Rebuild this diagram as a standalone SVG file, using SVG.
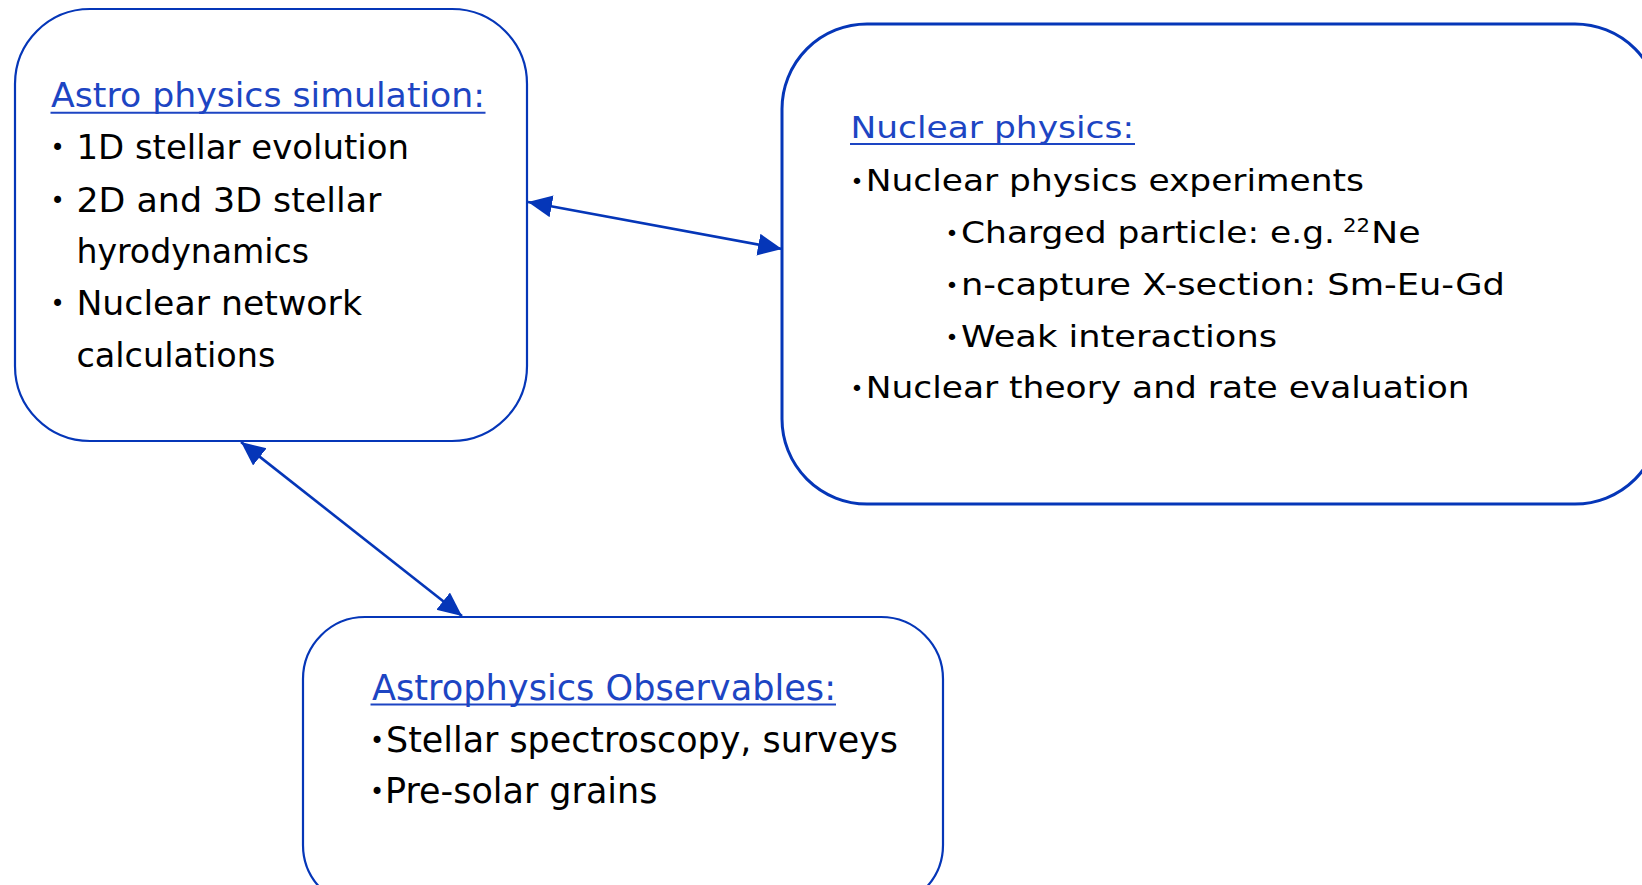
<svg xmlns="http://www.w3.org/2000/svg" width="1642" height="885" viewBox="0 0 1642 885">
<style>
.box{fill:#ffffff;stroke:#0536b8;}
.t{font-family:"DejaVu Sans","Liberation Sans",sans-serif;fill:#000000;}
.title{font-family:"DejaVu Sans","Liberation Sans",sans-serif;fill:#1d45c3;}
.ul{stroke:#1d45c3;stroke-width:2;}
.conn{stroke:#0536b8;stroke-width:2.6;fill:none;marker-start:url(#ah);marker-end:url(#ah);}
</style>
<defs>
<marker id="ah" markerUnits="userSpaceOnUse" markerWidth="26" markerHeight="24" refX="24" refY="11" orient="auto-start-reverse">
<path d="M0,0 L24,11 L0,22 Z" fill="#0536b8"/>
</marker>
</defs>
<rect width="1642" height="885" fill="#ffffff"/>
<g id="astro-simulation">
<rect class="box" x="15" y="9" width="512" height="432" rx="75" ry="75" stroke-width="2.2"/>
<text class="title" x="51" y="107" font-size="34" textLength="434" lengthAdjust="spacingAndGlyphs">Astro physics simulation:</text>
<line class="ul" x1="50.5" y1="112.7" x2="485.5" y2="112.7"/>
<text class="t" x="57.5" y="156" font-size="24" text-anchor="middle">•</text>
<text class="t" x="76.4" y="159.3" font-size="34" textLength="332.6" lengthAdjust="spacingAndGlyphs">1D stellar evolution</text>
<text class="t" x="57.5" y="209" font-size="24" text-anchor="middle">•</text>
<text class="t" x="76.4" y="212" font-size="34" textLength="305" lengthAdjust="spacingAndGlyphs">2D and 3D stellar</text>
<text class="t" x="76.4" y="263.3" font-size="34" textLength="232.6" lengthAdjust="spacingAndGlyphs">hyrodynamics</text>
<text class="t" x="57.5" y="312" font-size="24" text-anchor="middle">•</text>
<text class="t" x="76.4" y="315" font-size="34" textLength="285.6" lengthAdjust="spacingAndGlyphs">Nuclear network</text>
<text class="t" x="76.4" y="366.7" font-size="34" textLength="199" lengthAdjust="spacingAndGlyphs">calculations</text>
</g>
<g id="nuclear-physics">
<rect class="box" x="782" y="24" width="878" height="480" rx="85" ry="85" stroke-width="3"/>
<text class="title" x="850.5" y="138.3" font-size="31" textLength="283.5" lengthAdjust="spacingAndGlyphs">Nuclear physics:</text>
<line class="ul" x1="850" y1="144" x2="1135" y2="144"/>
<text class="t" x="857" y="189" font-size="22" text-anchor="middle">•</text>
<text class="t" x="865.7" y="191" font-size="31" textLength="498.3" lengthAdjust="spacingAndGlyphs">Nuclear physics experiments</text>
<text class="t" x="952" y="241.3" font-size="22" text-anchor="middle">•</text>
<text class="t" x="961" y="243.3" font-size="31" textLength="374" lengthAdjust="spacingAndGlyphs">Charged particle: e.g. </text>
<text class="t" x="1343" y="232" font-size="19" textLength="27" lengthAdjust="spacingAndGlyphs">22</text>
<text class="t" x="1371" y="243.3" font-size="31" textLength="49.7" lengthAdjust="spacingAndGlyphs">Ne</text>
<text class="t" x="952" y="293" font-size="22" text-anchor="middle">•</text>
<text class="t" x="961" y="295" font-size="31" textLength="544" lengthAdjust="spacingAndGlyphs">n-capture X-section: Sm-Eu-Gd</text>
<text class="t" x="952" y="345.3" font-size="22" text-anchor="middle">•</text>
<text class="t" x="961" y="347.3" font-size="31" textLength="316" lengthAdjust="spacingAndGlyphs">Weak interactions</text>
<text class="t" x="857" y="396.3" font-size="22" text-anchor="middle">•</text>
<text class="t" x="865.7" y="398.3" font-size="31" textLength="604" lengthAdjust="spacingAndGlyphs">Nuclear theory and rate evaluation</text>
</g>
<g id="astro-observables">
<rect class="box" x="303" y="617" width="640" height="290" rx="62" ry="62" stroke-width="2.2"/>
<text class="title" x="372" y="700" font-size="36" textLength="464" lengthAdjust="spacingAndGlyphs">Astrophysics Observables:</text>
<line class="ul" x1="370.5" y1="704.5" x2="836" y2="704.5"/>
<text class="t" x="377" y="749" font-size="24" text-anchor="middle">•</text>
<text class="t" x="386" y="751.7" font-size="36" textLength="512" lengthAdjust="spacingAndGlyphs">Stellar spectroscopy, surveys</text>
<text class="t" x="377" y="800" font-size="24" text-anchor="middle">•</text>
<text class="t" x="385" y="802.7" font-size="36" textLength="272.4" lengthAdjust="spacingAndGlyphs">Pre-solar grains</text>
</g>
<g id="connectors">
<line class="conn" x1="528" y1="202" x2="782" y2="249"/>
<line class="conn" x1="241" y1="442" x2="462" y2="616"/>
</g>
</svg>
